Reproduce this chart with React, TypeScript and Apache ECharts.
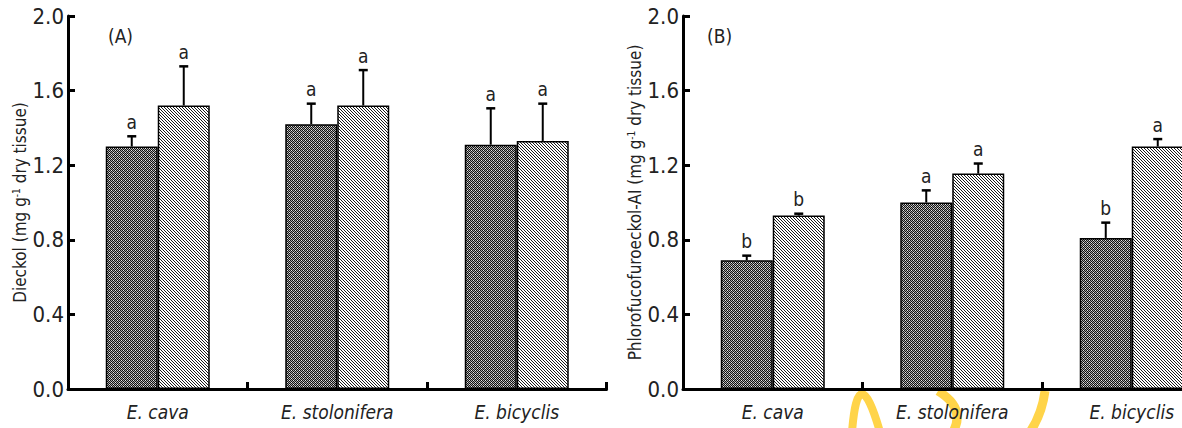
import React, { useEffect, useRef } from 'react';
import * as echarts from 'echarts';

const categories = ['E. cava', 'E. stolonifera', 'E. bicyclis'];

// Panel A: Dieckol
const dieckolDark = [1.30, 1.42, 1.31];
const dieckolDarkErr = [0.055, 0.11, 0.195];
const dieckolDarkLetters = ['a', 'a', 'a'];
const dieckolHatch = [1.52, 1.52, 1.33];
const dieckolHatchErr = [0.21, 0.19, 0.2];
const dieckolHatchLetters = ['a', 'a', 'a'];

// Panel B: Phlorofucofuroeckol-A
const pfDark = [0.69, 1.0, 0.81];
const pfDarkErr = [0.025, 0.065, 0.082];
const pfDarkLetters = ['b', 'a', 'b'];
const pfHatch = [0.93, 1.155, 1.3];
const pfHatchErr = [0.01, 0.054, 0.04];
const pfHatchLetters = ['b', 'a', 'a'];

const yMin = 0;
const yMax = 2.0;
const yInterval = 0.4;

const FONT = '"Liberation Sans Narrow", "DejaVu Sans Condensed", "Arial Narrow", "Liberation Sans", Arial, sans-serif';
const TEXT = '#222';

function makeDarkPattern(): HTMLCanvasElement {
  const c = document.createElement('canvas');
  c.width = 4;
  c.height = 4;
  const ctx = c.getContext('2d')!;
  ctx.fillStyle = '#a8a8a8';
  ctx.fillRect(0, 0, 4, 4);
  ctx.fillStyle = '#111';
  for (let y = 0; y < 4; y++) {
    for (let x = 0; x < 4; x++) {
      if ((x + y) % 2 === 0) ctx.fillRect(x, y, 1, 1);
    }
  }
  ctx.fillStyle = '#e8e8e8';
  ctx.fillRect(1, 0, 1, 1);
  ctx.fillRect(3, 2, 1, 1);
  return c;
}

function makeHatchPattern(): HTMLCanvasElement {
  const c = document.createElement('canvas');
  c.width = 3;
  c.height = 3;
  const ctx = c.getContext('2d')!;
  ctx.fillStyle = '#ffffff';
  ctx.fillRect(0, 0, 3, 3);
  ctx.fillStyle = '#1a1a1a';
  for (let i = 0; i < 3; i++) ctx.fillRect(i, i, 1, 1);
  return c;
}

function errSeries(
  gi: number,
  vals: number[],
  errs: number[],
  letters: string[],
  offset: number
) {
  return {
    type: 'custom',
    xAxisIndex: gi,
    yAxisIndex: gi,
    z: 10,
    silent: true,
    data: vals.map((v, i) => [i, v, errs[i]]),
    renderItem: (_params: any, api: any) => {
      const i = api.value(0);
      const v = api.value(1);
      const e = api.value(2);
      const base = api.coord([i, v]);
      const top = api.coord([i, v + e]);
      const x = base[0] + offset;
      return {
        type: 'group',
        children: [
          {
            type: 'line',
            shape: { x1: x, y1: base[1], x2: x, y2: top[1] },
            style: { stroke: '#000', lineWidth: 2 },
          },
          {
            type: 'line',
            shape: { x1: x - 4.5, y1: top[1], x2: x + 4.5, y2: top[1] },
            style: { stroke: '#000', lineWidth: 2.5 },
          },
          {
            type: 'text',
            style: {
              text: letters[i],
              x: x,
              y: top[1] - 5,
              align: 'center',
              verticalAlign: 'bottom',
              fontSize: 19,
              fontFamily: FONT,
              fill: TEXT,
            },
          },
        ],
      };
    },
  };
}

export default function App() {
  const ref = useRef<HTMLDivElement>(null);

  useEffect(() => {
    if (!ref.current) return;
    const chart = echarts.init(ref.current, null, { renderer: 'svg' });
    const dark = makeDarkPattern();
    const hatch = makeHatchPattern();
    const darkFill: any = { image: dark, repeat: 'repeat' };
    const hatchFill: any = { image: hatch, repeat: 'repeat' };

    const BAR_W = 52;

    const xAxis = (gi: number) => ({
      gridIndex: gi,
      type: 'category',
      data: categories,
      axisLine: { show: true, lineStyle: { color: '#000', width: 3 } },
      axisTick: {
        show: true,
        inside: true,
        length: 7,
        lineStyle: { color: '#000', width: 3 },
      },
      axisLabel: {
        color: TEXT,
        fontSize: 19,
        fontStyle: 'italic',
        fontFamily: FONT,
        margin: 13,
      },
      splitLine: { show: false },
    });

    const yAxis = (gi: number, title: string, gap: number) => ({
      gridIndex: gi,
      type: 'value',
      min: yMin,
      max: yMax,
      interval: yInterval,
      axisLine: { show: true, lineStyle: { color: '#000', width: 3 } },
      axisTick: {
        show: true,
        inside: true,
        length: 7,
        lineStyle: { color: '#000', width: 3 },
      },
      axisLabel: {
        color: TEXT,
        fontSize: 22,
        fontFamily: FONT,
        margin: 4,
        formatter: (v: number) => v.toFixed(1),
      },
      splitLine: { show: false },
      name: `{t|${title} (mg g}{s|-1}{t| dry tissue)}`,
      nameLocation: 'middle',
      nameRotate: 90,
      nameGap: gap,
      nameTextStyle: {
        rich: {
          t: { fontSize: 17, fontFamily: FONT, color: TEXT },
          s: { fontSize: 10, fontFamily: FONT, color: TEXT, verticalAlign: 'top' },
        },
      },
    });

    const barSeries = (gi: number, vals: number[], fill: any) => ({
      type: 'bar',
      xAxisIndex: gi,
      yAxisIndex: gi,
      data: vals,
      barWidth: BAR_W,
      barGap: '0%',
      itemStyle: { color: fill, borderColor: '#000', borderWidth: 1.5 },
      silent: true,
      z: 2,
    });

    const yellow = '#FFD449';

    chart.setOption({
      animation: false,
      backgroundColor: '#ffffff',
      grid: [
        { left: 68, top: 16, width: 538.5, height: 373, containLabel: false },
        { left: 683, top: 16, width: 538.5, height: 373, containLabel: false },
      ],
      xAxis: [xAxis(0), xAxis(1)],
      yAxis: [yAxis(0, 'Dieckol', 40), yAxis(1, 'Phlorofucofuroeckol-AI', 38)],
      series: [
        barSeries(0, dieckolDark, darkFill),
        barSeries(0, dieckolHatch, hatchFill),
        errSeries(0, dieckolDark, dieckolDarkErr, dieckolDarkLetters, -BAR_W / 2),
        errSeries(0, dieckolHatch, dieckolHatchErr, dieckolHatchLetters, BAR_W / 2),
        barSeries(1, pfDark, darkFill),
        barSeries(1, pfHatch, hatchFill),
        errSeries(1, pfDark, pfDarkErr, pfDarkLetters, -BAR_W / 2),
        errSeries(1, pfHatch, pfHatchErr, pfHatchLetters, BAR_W / 2),
      ],
      graphic: [
        {
          type: 'text',
          left: 108,
          top: 26,
          style: { text: '(A)', fontSize: 19, fontFamily: FONT, fill: TEXT },
        },
        {
          type: 'text',
          left: 707,
          top: 26,
          style: { text: '(B)', fontSize: 19, fontFamily: FONT, fill: TEXT },
        },
        {
          type: 'bezierCurve',
          z: -10,
          shape: { x1: 852, y1: 432, cpx1: 858, cpy1: 356, x2: 880, y2: 432 },
          style: { stroke: yellow, lineWidth: 8, fill: null },
        },
        {
          type: 'bezierCurve',
          z: -10,
          shape: { x1: 938, y1: 391, cpx1: 966, cpy1: 408, x2: 953, y2: 432 },
          style: { stroke: yellow, lineWidth: 9, fill: null },
        },
        {
          type: 'bezierCurve',
          z: -10,
          shape: { x1: 1045, y1: 391, cpx1: 1042, cpy1: 414, x2: 1030, y2: 432 },
          style: { stroke: yellow, lineWidth: 9, fill: null },
        },
      ],
    });
    return () => chart.dispose();
  }, []);

  return (
    <div
      style={{
        position: 'absolute',
        left: 0,
        top: 0,
        width: 1182,
        height: 428,
        overflow: 'hidden',
        background: '#fff',
      }}
    >
      <div ref={ref} style={{ width: 1240, height: 428 }} />
    </div>
  );
}
